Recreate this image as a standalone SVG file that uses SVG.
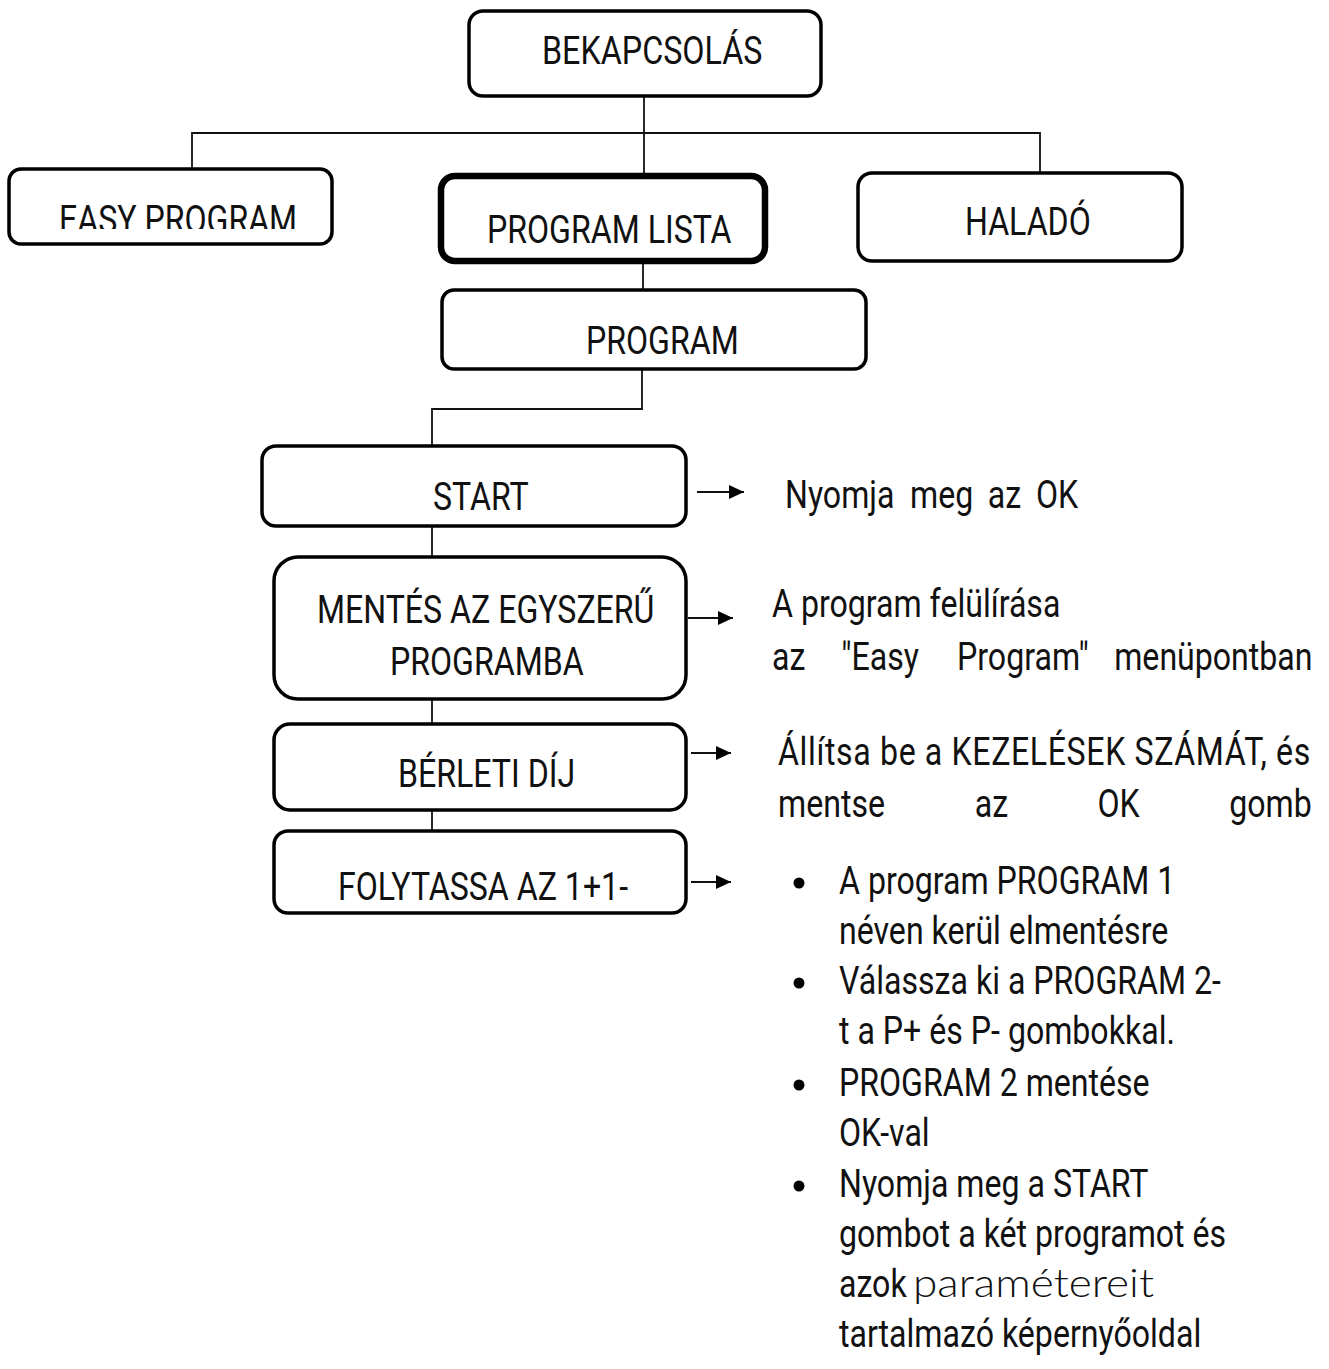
<svg xmlns="http://www.w3.org/2000/svg" width="1329" height="1369" viewBox="0 0 1329 1369">
<style>
.box{fill:#fff;stroke:#000;stroke-width:3.5}
.thick{stroke-width:6.5}
.t{font-family:Roboto,"Liberation Sans",sans-serif;font-size:38px;fill:#111}
.c{fill:none;stroke:#111;stroke-width:1.8}
.g{font-family:Lato,"DejaVu Sans",sans-serif;font-size:40px;font-weight:300;fill:#111}
</style>
<defs>
<marker id="ah" markerUnits="userSpaceOnUse" markerWidth="15" markerHeight="14" refX="15" refY="7" orient="auto">
<path d="M0,0 L15,7 L0,14 z" fill="#000"/>
</marker>
<clipPath id="clipEasy"><rect x="0" y="150" width="340" height="79"/></clipPath>
</defs>

<g id="connectors">
<path class="c" d="M644,97 V175"/>
<path class="c" d="M192,168 V133 H1040 V173"/>
<path class="c" d="M643,264 V290"/>
<path class="c" d="M642,370 V409 H432 V446"/>
<path class="c" d="M432,526 V557"/>
<path class="c" d="M432,699 V724"/>
<path class="c" d="M432,810 V831"/>
<line class="c" x1="697" y1="492" x2="744" y2="492" marker-end="url(#ah)"/>
<line class="c" x1="688" y1="618" x2="733" y2="618" marker-end="url(#ah)"/>
<line class="c" x1="691" y1="753" x2="731" y2="753" marker-end="url(#ah)"/>
<line class="c" x1="691" y1="882" x2="731" y2="882" marker-end="url(#ah)"/>
</g>

<g id="bekapcsolas">
<rect class="box" x="469" y="11" width="352" height="85" rx="14"/>
<text class="t" transform="translate(542,64) scale(0.85,1)">BEKAPCSOLÁS</text>
</g>
<g id="easy-program">
<rect class="box" x="9" y="169" width="323" height="75" rx="12"/>
<g clip-path="url(#clipEasy)">
<text class="t" transform="translate(59,233) scale(0.845,1)">EASY PROGRAM</text>
</g>
</g>
<g id="program-lista">
<rect class="box thick" x="441" y="176" width="324" height="85" rx="14"/>
<text class="t" transform="translate(487,243) scale(0.845,1)">PROGRAM LISTA</text>
</g>
<g id="halado">
<rect class="box" x="858" y="173" width="324" height="88" rx="14"/>
<text class="t" transform="translate(965,235) scale(0.845,1)">HALADÓ</text>
</g>
<g id="program">
<rect class="box" x="442" y="290" width="424" height="79" rx="12"/>
<text class="t" transform="translate(586,354) scale(0.845,1)">PROGRAM</text>
</g>
<g id="start">
<rect class="box" x="262" y="446" width="424" height="80" rx="14"/>
<text class="t" transform="translate(433,510) scale(0.845,1)">START</text>
</g>
<g id="mentes">
<rect class="box" x="274" y="557" width="412" height="142" rx="24"/>
<text class="t" transform="translate(317,623) scale(0.845,1)">MENTÉS AZ EGYSZERŰ</text>
<text class="t" transform="translate(390,675) scale(0.845,1)">PROGRAMBA</text>
</g>
<g id="berleti">
<rect class="box" x="274" y="724" width="412" height="86" rx="16"/>
<text class="t" transform="translate(398,787) scale(0.845,1)">BÉRLETI DÍJ</text>
</g>
<g id="folytassa">
<rect class="box" x="274" y="831" width="412" height="82" rx="14"/>
<text class="t" transform="translate(338,900) scale(0.845,1)">FOLYTASSA AZ 1+1-</text>
</g>

<g id="note-start">
<text class="t" transform="translate(785,508) scale(0.845,1)"><tspan x="0">Nyomja</tspan><tspan x="148">meg</tspan><tspan x="240">az</tspan><tspan x="297">OK</tspan></text>
</g>
<g id="note-mentes">
<text class="t" transform="translate(772,617) scale(0.845,1)">A program felülírása</text>
<text class="t" transform="translate(772,670) scale(0.845,1)"><tspan x="0">az</tspan><tspan x="82">"Easy</tspan><tspan x="219">Program"</tspan><tspan x="405">menüpontban</tspan></text>
</g>
<g id="note-berleti">
<text class="t" transform="translate(778,765) scale(0.845,1)" textLength="630" lengthAdjust="spacing">Állítsa be a KEZELÉSEK SZÁMÁT, és</text>
<text class="t" transform="translate(778,817) scale(0.845,1)"><tspan x="0">mentse</tspan><tspan x="233">az</tspan><tspan x="378">OK</tspan><tspan x="534">gomb</tspan></text>
</g>
<g id="note-folytassa">
<circle cx="799" cy="883" r="5.5"/>
<circle cx="799" cy="983" r="5.5"/>
<circle cx="799" cy="1085" r="5.5"/>
<circle cx="799" cy="1186" r="5.5"/>
<text class="t" transform="translate(839,894) scale(0.845,1)">A program PROGRAM 1</text>
<text class="t" transform="translate(839,944) scale(0.845,1)">néven kerül elmentésre</text>
<text class="t" transform="translate(839,994) scale(0.845,1)">Válassza ki a PROGRAM 2-</text>
<text class="t" transform="translate(839,1044) scale(0.845,1)">t a P+ és P- gombokkal.</text>
<text class="t" transform="translate(839,1096) scale(0.845,1)">PROGRAM 2 mentése</text>
<text class="t" transform="translate(839,1146) scale(0.845,1)">OK-val</text>
<text class="t" transform="translate(839,1197) scale(0.845,1)">Nyomja meg a START</text>
<text class="t" transform="translate(839,1247) scale(0.845,1)">gombot a két programot és</text>
<text class="t" transform="translate(839,1297) scale(0.845,1)">azok</text>
<text class="g" x="913" y="1297" textLength="241" lengthAdjust="spacingAndGlyphs">paramétereit</text>
<text class="t" transform="translate(839,1347) scale(0.845,1)">tartalmazó képernyőoldal</text>
</g>
</svg>
